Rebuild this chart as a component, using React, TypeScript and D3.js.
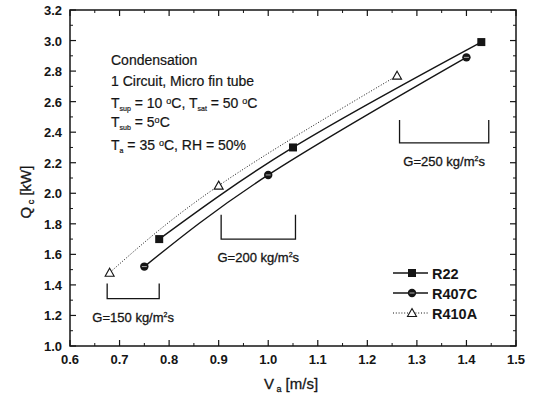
import React from "react";
import * as d3 from "d3";

const xTicks = [0.6, 0.7, 0.8, 0.9, 1.0, 1.1, 1.2, 1.3, 1.4, 1.5];
const yTicks = [1.0, 1.2, 1.4, 1.6, 1.8, 2.0, 2.2, 2.4, 2.6, 2.8, 3.0, 3.2];

const r22X = [0.78, 1.05, 1.43];
const r22Y = [1.70, 2.30, 2.99];
const r407cX = [0.75, 1.0, 1.40];
const r407cY = [1.52, 2.12, 2.89];
const r410aX = [0.68, 0.90, 1.26];
const r410aY = [1.48, 2.05, 2.77];

const bracketX0 = [0.675, 0.905, 1.265];
const bracketX1 = [0.78, 1.055, 1.445];
const bracketTop = [1.41, 1.86, 2.48];
const bracketBot = [1.31, 1.70, 2.33];
const bracketLabels = ["150", "200", "250"];

const W = 533, H = 399;
const L = 70, R = 516, T = 10, B = 346;

export default function App() {
  const x = d3.scaleLinear().domain([0.6, 1.5]).range([L, R]);
  const y = d3.scaleLinear().domain([1.0, 3.2]).range([B, T]);
  const line = d3.line<[number, number]>().x(d => x(d[0])).y(d => y(d[1])).curve(d3.curveNatural);
  const ink = "#151515";
  const font = "Liberation Sans, Arial, sans-serif";
  const xMinor = d3.range(0.65, 1.5, 0.1);
  const yMinor = d3.range(1.1, 3.2, 0.2);
  const pts = (xs: number[], ys: number[]) => xs.map((v, i) => [v, ys[i]] as [number, number]);

  const square = (cx: number, cy: number, k: string) => (
    <rect key={k} x={cx - 4} y={cy - 4} width={8} height={8} fill={ink} />
  );
  const circle = (cx: number, cy: number, k: string) => (
    <g key={k}>
      <circle cx={cx} cy={cy} r={4.2} fill={ink} />
      <line x1={cx - 2.5} x2={cx + 2.5} y1={cy} y2={cy} stroke="#aaa" strokeWidth={1} />
    </g>
  );
  const tri = (cx: number, cy: number, k: string) => (
    <path key={k} d={`M${cx},${cy - 4.5}L${cx + 4.5},${cy + 3.5}L${cx - 4.5},${cy + 3.5}Z`} fill="white" stroke={ink} strokeWidth={1.1} />
  );

  return (
    <svg width={W} height={H} style={{ position: "absolute", left: 0, top: 0, background: "white" }} fontFamily={font}>
      <rect x={0} y={0} width={W} height={H} fill="white" />
      {/* frame */}
      <rect x={L} y={T} width={R - L} height={B - T} fill="none" stroke={ink} strokeWidth={1.5} />
      {/* ticks */}
      {xTicks.map((t, i) => (
        <g key={"xt" + i}>
          <line x1={x(t)} x2={x(t)} y1={B} y2={B - 6} stroke={ink} strokeWidth={1.2} />
          <line x1={x(t)} x2={x(t)} y1={T} y2={T + 6} stroke={ink} strokeWidth={1.2} />
          <text x={x(t)} y={B + 18} textAnchor="middle" fontSize={13} fontWeight="bold" fill={ink}>{t.toFixed(1)}</text>
        </g>
      ))}
      {xMinor.map((t, i) => (
        <g key={"xm" + i}>
          <line x1={x(t)} x2={x(t)} y1={B} y2={B - 3} stroke={ink} strokeWidth={1} />
          <line x1={x(t)} x2={x(t)} y1={T} y2={T + 3} stroke={ink} strokeWidth={1} />
        </g>
      ))}
      {yTicks.map((t, i) => (
        <g key={"yt" + i}>
          <line x1={L} x2={L + 6} y1={y(t)} y2={y(t)} stroke={ink} strokeWidth={1.2} />
          <line x1={R} x2={R - 6} y1={y(t)} y2={y(t)} stroke={ink} strokeWidth={1.2} />
          <text x={L - 8} y={y(t) + 5} textAnchor="end" fontSize={13} fontWeight="bold" fill={ink}>{t.toFixed(1)}</text>
        </g>
      ))}
      {yMinor.map((t, i) => (
        <g key={"ym" + i}>
          <line x1={L} x2={L + 3} y1={y(t)} y2={y(t)} stroke={ink} strokeWidth={1} />
          <line x1={R} x2={R - 3} y1={y(t)} y2={y(t)} stroke={ink} strokeWidth={1} />
        </g>
      ))}
      {/* axis labels */}
      <text transform={`translate(31,192) rotate(-90)`} textAnchor="middle" fontSize={15} fill={ink} stroke={ink} strokeWidth={0.3}>
        Q<tspan fontSize={9} dy={3}> c</tspan><tspan dy={-3}> [kW]</tspan>
      </text>
      <text x={291} y={389} textAnchor="middle" fontSize={15} fill={ink} stroke={ink} strokeWidth={0.3}>
        V<tspan fontSize={9} dy={3}> a</tspan><tspan dy={-3}> [m/s]</tspan>
      </text>

      {/* lines */}
      <path d={line(pts(r22X, r22Y)) || ""} fill="none" stroke={ink} strokeWidth={1.4} />
      <path d={line(pts(r407cX, r407cY)) || ""} fill="none" stroke={ink} strokeWidth={1.4} />
      <path d={line(pts(r410aX, r410aY)) || ""} fill="none" stroke={ink} strokeWidth={1} strokeDasharray="1,1.8" />
      {r22X.map((v, i) => square(x(v), y(r22Y[i]), "s" + i))}
      {r407cX.map((v, i) => circle(x(v), y(r407cY[i]), "c" + i))}
      {r410aX.map((v, i) => tri(x(v), y(r410aY[i]), "t" + i))}

      {/* brackets */}
      {bracketLabels.map((g, i) => {
        const x0 = x(bracketX0[i]), x1 = x(bracketX1[i]);
        const yt = y(bracketTop[i]), yb = y(bracketBot[i]);
        return (
          <g key={"b" + i}>
            <path d={`M${x0},${yt}V${yb}H${x1}V${yt}`} fill="none" stroke={ink} strokeWidth={1.3} />
            <text x={(x0 + x1) / 2} y={yb + 23} textAnchor="middle" fontSize={13} fill={ink} stroke={ink} strokeWidth={0.3}>
              G={g} kg/m<tspan fontSize={7} dy={-5}>2</tspan><tspan dy={5}>s</tspan>
            </text>
          </g>
        );
      })}

      {/* annotation */}
      <g fontSize={14} fill={ink} stroke={ink} strokeWidth={0.2}>
        <text x={111} y={65}>Condensation</text>
        <text x={111} y={86}>1 Circuit, Micro fin tube</text>
        <text x={111} y={108}>
          T<tspan fontSize={7} dy={3}>sup</tspan><tspan dy={-3}> = 10 </tspan><tspan fontSize={9} dy={-4}>o</tspan><tspan dy={4}>C, T</tspan>
          <tspan fontSize={7} dy={3}>sat</tspan><tspan dy={-3}> = 50 </tspan><tspan fontSize={9} dy={-4}>o</tspan><tspan dy={4}>C</tspan>
        </text>
        <text x={111} y={127}>
          T<tspan fontSize={7} dy={3}>sub</tspan><tspan dy={-3}> = 5</tspan><tspan fontSize={9} dy={-4}>o</tspan><tspan dy={4}>C</tspan>
        </text>
        <text x={111} y={150}>
          T<tspan fontSize={7} dy={3}>a</tspan><tspan dy={-3}> = 35 </tspan><tspan fontSize={9} dy={-4}>o</tspan><tspan dy={4}>C, RH = 50%</tspan>
        </text>
      </g>

      {/* legend */}
      {["R22", "R407C", "R410A"].map((name, i) => {
        const ly = 273 + i * 20;
        return (
          <g key={"lg" + i}>
            <line x1={393} x2={428} y1={ly} y2={ly} stroke={ink} strokeWidth={i === 2 ? 1 : 1.4} strokeDasharray={i === 2 ? "1,1.8" : undefined} />
            {i === 0 ? square(412, ly, "ls") : i === 1 ? circle(412, ly, "lc") : tri(412, ly, "lt")}
            <text x={432} y={ly + 5.5} fontSize={14.5} fontWeight="bold" fill={ink}>{name}</text>
          </g>
        );
      })}
    </svg>
  );
}
